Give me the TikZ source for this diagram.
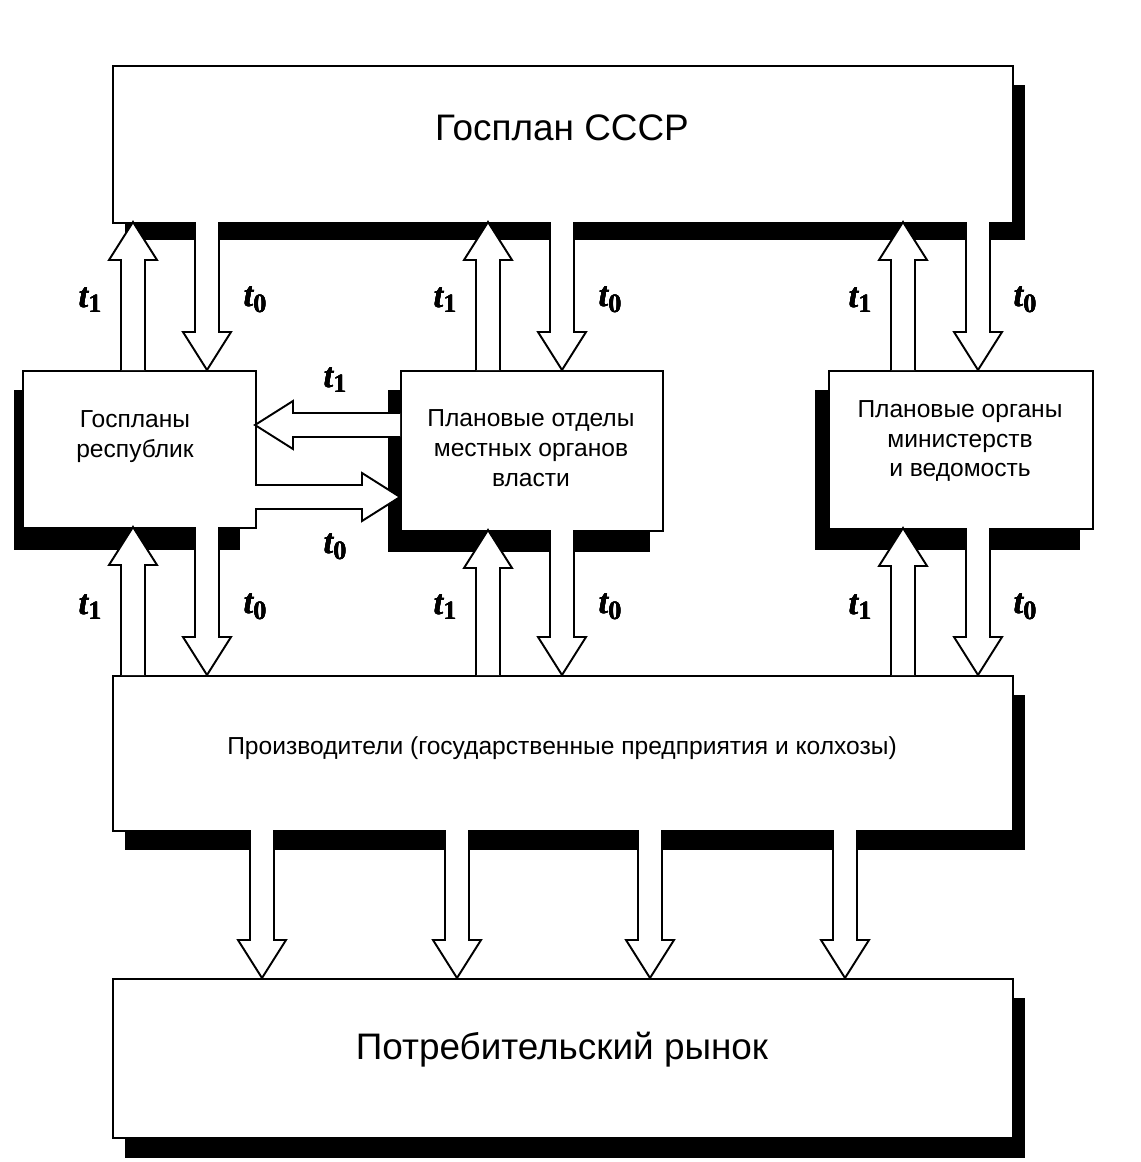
\documentclass[tikz,border=0pt]{standalone}
\usepackage{fontspec}
\setmainfont{Liberation Serif}
\newfontfamily\boxfont{Liberation Sans}
\begin{document}
\begin{tikzpicture}[x=0.02cm,y=-0.02cm,line width=1.1pt]
    \tikzstyle{box}=[rectangle,draw,fill=white,anchor=north west,inner sep=0,align=center,font=\boxfont]
    \tikzstyle{shade}=[fill=black]
    \tikzstyle{lbl}=[font=\fontsize{20}{22}\selectfont\bfseries\itshape]
    % hollow arrow: x, y of tail, y of tip (vertical)
    \newcommand{\varrow}[3]{\draw[fill=white] (#1-12,#2) -- (#1-12,{#3+(#2-#3)/abs(#2-#3)*38}) -- (#1-24,{#3+(#2-#3)/abs(#2-#3)*38}) -- (#1,#3) -- (#1+24,{#3+(#2-#3)/abs(#2-#3)*38}) -- (#1+12,{#3+(#2-#3)/abs(#2-#3)*38}) -- (#1+12,#2);}
    \newcommand{\harrow}[3]{\draw[fill=white] (#2,#1-12) -- ({#3+(#2-#3)/abs(#2-#3)*38},#1-12) -- ({#3+(#2-#3)/abs(#2-#3)*38},#1-24) -- (#3,#1) -- ({#3+(#2-#3)/abs(#2-#3)*38},#1+24) -- ({#3+(#2-#3)/abs(#2-#3)*38},#1+12) -- (#2,#1+12);}
    \useasboundingbox (0,0) rectangle (1141,1162);
    % shadows
    \fill[shade] (125,85) rectangle (1025,240);
    \fill[shade] (14,390) rectangle (240,550);
    \fill[shade] (388,390) rectangle (650,552);
    \fill[shade] (815,390) rectangle (1080,550);
    \fill[shade] (125,695) rectangle (1025,850);
    \fill[shade] (125,998) rectangle (1025,1158);
    % boxes
    \node[box,minimum width=900*0.02cm,minimum height=157*0.02cm] (gosplan) at (112,65) {};
    \node[font=\boxfont\fontsize{21}{25}\selectfont] (gosplanT) at (562,128) {Госплан СССР};
    \node[box,minimum width=233*0.02cm,minimum height=157*0.02cm] (rep) at (22,370) {};
    \node[font=\boxfont\fontsize{14}{17}\selectfont,align=center] (repT) at (135,437) {Госпланы\\республик};
    \node[box,minimum width=262*0.02cm,minimum height=160*0.02cm] (mest) at (400,370) {};
    \node[font=\boxfont\fontsize{14}{17}\selectfont,align=center] (mestT) at (531,448) {Плановые отделы\\местных органов\\власти};
    \node[box,minimum width=264*0.02cm,minimum height=158*0.02cm] (min) at (828,370) {};
    \node[font=\boxfont\fontsize{14}{17}\selectfont,align=center] (minT) at (960,441) {Плановые органы\\министерств\\и ведомость};
    \node[box,minimum width=900*0.02cm,minimum height=155*0.02cm] (prod) at (112,675) {};
    \node[font=\boxfont\fontsize{14}{17}\selectfont] (prodT) at (562,748) {Производители (государственные предприятия и колхозы)};
    \node[box,minimum width=900*0.02cm,minimum height=159*0.02cm] (market) at (112,978) {};
    \node[font=\boxfont\fontsize{21}{25}\selectfont] (marketT) at (562,1050) {Потребительский рынок};
    % arrows between levels
    \foreach \xu/\xd in {133/207,488/562,903/978}{
      \varrow{\xu}{370}{222}
      \varrow{\xd}{222}{370}
    }
    \varrow{133}{675}{527}
    \varrow{207}{527}{675}
    \varrow{488}{675}{530}
    \varrow{562}{530}{675}
    \varrow{903}{675}{528}
    \varrow{978}{528}{675}
    \harrow{425}{400}{255}
    \harrow{497}{255}{400}
    \foreach \x in {262,457,650,845}
      \varrow{\x}{830}{978}
    % labels
    \foreach \x/\y/\t in {90/300/1,255/300/0,445/300/1,610/300/0,860/300/1,1025/300/0,90/607/1,255/607/0,445/607/1,610/607/0,860/607/1,1025/607/0,335/380/1,335/547/0}
      \node[lbl] (t\x-\y) at (\x,\y) {\textbf{\textit{t}}\raisebox{-0.35ex}{\fontsize{15}{16}\selectfont\bfseries\upshape\t}};
\end{tikzpicture}
\end{document}
